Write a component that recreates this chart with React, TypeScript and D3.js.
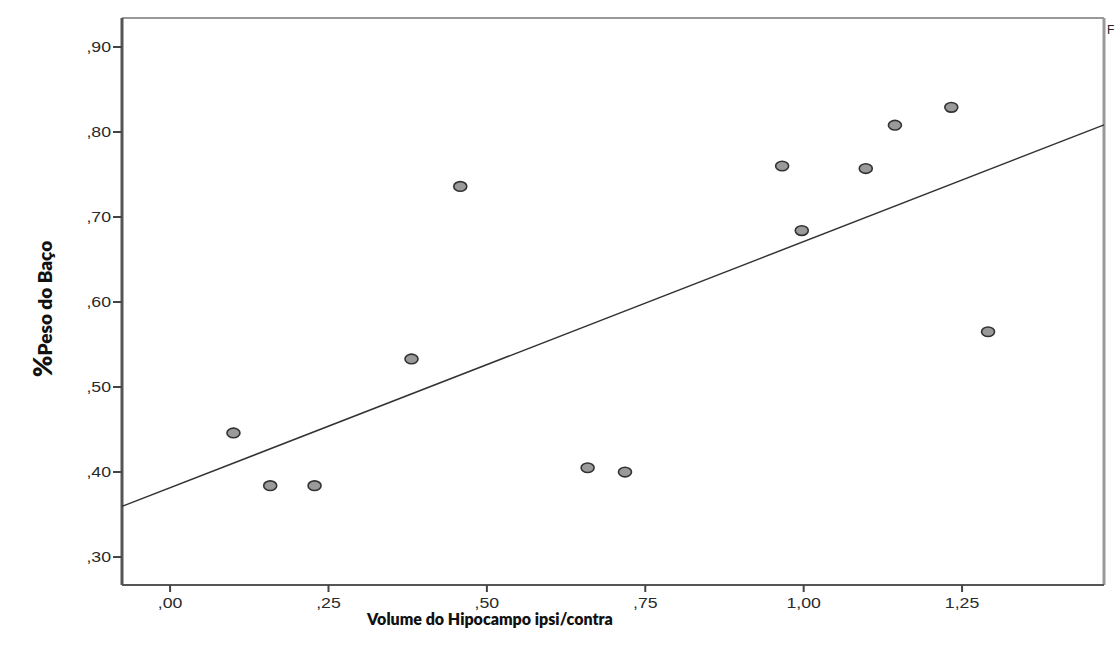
import React from 'react'
import * as d3 from 'd3'

// Volume do Hipocampo ipsi/contra (x) vs %Peso do Baço (y)
const volume = [0.10, 0.158, 0.228, 0.381, 0.458, 0.659, 0.718, 0.966, 0.997, 1.098, 1.144, 1.233, 1.291]
const peso = [0.446, 0.384, 0.384, 0.533, 0.736, 0.405, 0.400, 0.760, 0.684, 0.757, 0.808, 0.829, 0.565]
const xTicks = [0, 0.25, 0.5, 0.75, 1.0, 1.25]
const yTicks = [0.3, 0.4, 0.5, 0.6, 0.7, 0.8, 0.9]

const W = 1120
const H = 652
const left = 122
const right = 1104
const top = 18
const bottom = 585

const fmt = (v: number) => d3.format('.2f')(v).replace('.', ',').replace(/^0/, '')

export default function App() {
  const x = d3.scaleLinear().domain([-0.0759, 1.474]).range([left, right])
  const y = d3.scaleLinear().domain([0.2671, 0.9341]).range([bottom, top])

  // least squares fit
  const mx = d3.mean(volume) as number
  const my = d3.mean(peso) as number
  let sxy = 0
  let sxx = 0
  volume.forEach((v, i) => {
    sxy += (v - mx) * (peso[i] - my)
    sxx += (v - mx) * (v - mx)
  })
  const slope = sxy / sxx
  const icpt = my - slope * mx
  const [x0, x1] = x.domain()
  const line = d3.line<number>().x(d => x(d)).y(d => y(icpt + slope * d))

  const tickFont = { fontFamily: 'Liberation Sans, Arial, sans-serif', fontSize: 15, fill: '#2a2a2a' }
  const titleFont = { fontFamily: 'Lato, sans-serif', fontWeight: 800, fontSize: 16, fill: '#111' }

  return (
    <svg width={W} height={H} style={{ position: 'absolute', left: 0, top: 0, background: '#fff' }}>
      <rect x={0} y={0} width={W} height={H} fill='#fff' />
      {/* frame */}
      <line x1={left} y1={top} x2={right} y2={top} stroke='#999' strokeWidth={2} />
      <line x1={right} y1={top} x2={right} y2={bottom} stroke='#999' strokeWidth={3} />
      <line x1={left} y1={bottom} x2={right} y2={bottom} stroke='#555' strokeWidth={2} />
      <line x1={left} y1={top} x2={left} y2={bottom} stroke='#555' strokeWidth={3} />

      {/* regression line */}
      <path d={line([x0, x1]) || ''} fill='none' stroke='#333' strokeWidth={1.5} />

      {/* y axis */}
      {yTicks.map(t => (
        <g key={'y' + t}>
          <line x1={left - 9} x2={left} y1={y(t)} y2={y(t)} stroke='#444' strokeWidth={2} />
          <text transform={`translate(${left - 11},${y(t)}) scale(1.18,1)`} dy='0.36em' textAnchor='end' style={tickFont}>{fmt(t)}</text>
        </g>
      ))}

      {/* x axis */}
      {xTicks.map(t => (
        <g key={'x' + t}>
          <line x1={x(t)} x2={x(t)} y1={bottom} y2={bottom + 7} stroke='#444' strokeWidth={2} />
          <text transform={`translate(${x(t)},${bottom + 23}) scale(1.18,1)`} textAnchor='middle' style={tickFont}>{fmt(t)}</text>
        </g>
      ))}

      {/* points */}
      {volume.map((v, i) => (
        <ellipse key={'p' + i} cx={x(v)} cy={y(peso[i])} rx={6.5} ry={4.8}
          fill='#9a9a9a' stroke='#333' strokeWidth={1.6} />
      ))}

      {/* axis titles */}
      <text x={490} y={625} textAnchor='middle' style={titleFont}>
        Volume do Hipocampo ipsi/contra
      </text>
      <text transform='translate(52,309) rotate(-90)' textAnchor='middle' style={{ ...titleFont, fontSize: 19 }}>
        <tspan style={{ fontSize: 26 }}>%</tspan>Peso do Baço
      </text>

      {/* clipped marker at top right */}
      <text x={1107} y={34} style={{ fontFamily: 'Liberation Sans, Arial, sans-serif', fontSize: 12, fill: '#222' }}>F</text>
    </svg>
  )
}
